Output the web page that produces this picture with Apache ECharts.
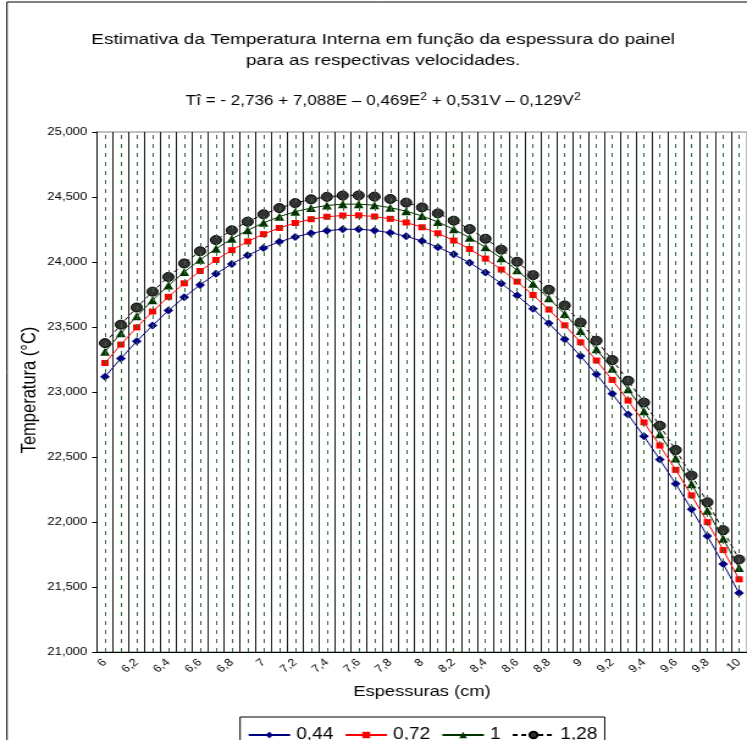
<!DOCTYPE html>
<html>
<head>
<meta charset="utf-8">
<script src="https://cdn.jsdelivr.net/npm/echarts@6.0.0/dist/echarts.min.js"></script>
<style>
  html, body { margin: 0; padding: 0; background: #fff; overflow: hidden; }
  /* the source picture is stretched sideways, so the chart is drawn narrower and widened */
  #myChart { width: 612px; height: 740px; transform: scaleX(1.2206); transform-origin: 0 0; }
</style>
</head>
<body>
<div id="myChart"></div>
<script>
// espessuras (cm)
const categorias = ['6', '6,1', '6,2', '6,3', '6,4', '6,5', '6,6', '6,7', '6,8', '6,9',
  '7', '7,1', '7,2', '7,3', '7,4', '7,5', '7,6', '7,7', '7,8', '7,9',
  '8', '8,1', '8,2', '8,3', '8,4', '8,5', '8,6', '8,7', '8,8', '8,9',
  '9', '9,1', '9,2', '9,3', '9,4', '9,5', '9,6', '9,7', '9,8', '9,9', '10'];

// temperatura interna por velocidade
const v044 = [23117, 23258, 23390, 23512, 23626, 23729, 23824, 23909, 23985, 24051,
  24108, 24155, 24193, 24222, 24241, 24251, 24252, 24243, 24225, 24198,
  24161, 24114, 24059, 23994, 23919, 23835, 23742, 23640, 23528, 23406,
  23276, 23136, 22986, 22827, 22659, 22481, 22294, 22098, 21892, 21677, 21453];
const v072 = [23223, 23365, 23497, 23619, 23732, 23836, 23931, 24016, 24091, 24158,
  24214, 24262, 24300, 24329, 24348, 24358, 24359, 24350, 24332, 24304,
  24267, 24221, 24165, 24100, 24026, 23942, 23849, 23746, 23634, 23513,
  23382, 23242, 23093, 22934, 22766, 22588, 22401, 22205, 21999, 21784, 21559];
const v1 = [23310, 23451, 23583, 23706, 23819, 23923, 24017, 24102, 24178, 24244,
  24301, 24349, 24387, 24415, 24435, 24445, 24445, 24437, 24418, 24391,
  24354, 24308, 24252, 24187, 24113, 24029, 23936, 23833, 23721, 23600,
  23469, 23329, 23179, 23021, 22852, 22675, 22488, 22291, 22086, 21871, 21646];
const v128 = [23376, 23518, 23650, 23772, 23885, 23989, 24083, 24169, 24244, 24310,
  24367, 24415, 24453, 24482, 24501, 24511, 24512, 24503, 24485, 24457,
  24420, 24374, 24318, 24253, 24179, 24095, 24002, 23899, 23787, 23666,
  23535, 23395, 23246, 23087, 22919, 22741, 22554, 22358, 22152, 21937, 21712];

const nomes = ['0,44', '0,72', '1', '1,28'];

const fonte = "'Liberation Sans', Arial, sans-serif";

let myChart = echarts.init(document.getElementById('myChart'));

let option = {
  animation: false,
  textStyle: { fontFamily: fonte, color: '#000' },
  graphic: [
    {
      type: 'rect', silent: true, z: -10,
      shape: { x: 5.7, y: 2, width: 700, height: 800 },
      style: { fill: 'none', stroke: '#000', lineWidth: 1 }
    },
    {
      type: 'text', x: 313.9, y: 40,
      style: {
        text: 'Estimativa da Temperatura Interna em função da espessura do painel',
        fontFamily: fonte, fontSize: 15.5, fill: '#000', align: 'center', verticalAlign: 'middle'
      }
    },
    {
      type: 'text', x: 313.9, y: 61,
      style: {
        text: 'para as respectivas velocidades.',
        fontFamily: fonte, fontSize: 15.5, fill: '#000', align: 'center', verticalAlign: 'middle'
      }
    },
    {
      type: 'text', x: 313.9, y: 101,
      style: {
        text: 'Tî = - 2,736 + 7,088E – 0,469E{s|2} + 0,531V – 0,129V{s|2}',
        fontFamily: fonte, fontSize: 14, fill: '#000', align: 'center', verticalAlign: 'middle',
        lineHeight: 18,
        rich: {
          s: { fontFamily: fonte, fontSize: 10, fill: '#000', verticalAlign: 'top', lineHeight: 18 }
        }
      }
    },
    {
      // título do eixo Y
      type: 'text', x: 24, y: 390, rotation: Math.PI / 2,
      style: {
        text: 'Temperatura (°C)',
        fontFamily: fonte, fontSize: 16.5, fill: '#000', align: 'center', verticalAlign: 'middle'
      }
    }
  ],
  grid: {
    left: 79.5, top: 132, width: 537.7, height: 520,
    show: true, borderColor: '#808080', borderWidth: 1
  },
  legend: {
    data: nomes,
    left: 196.7, top: 717,
    itemWidth: 34, itemHeight: 8, itemGap: 9,
    padding: [10, 6, 22, 6],
    borderColor: '#000', borderWidth: 1,
    textStyle: { fontSize: 15.6, color: '#000', fontFamily: fonte }
  },
  xAxis: {
    type: 'category',
    data: categorias,
    boundaryGap: true,
    name: 'Espessuras (cm)',
    nameLocation: 'middle',
    nameGap: 32,
    nameTextStyle: { fontSize: 15, color: '#000', fontFamily: fonte },
    axisLine: { lineStyle: { color: '#000', width: 1 } },
    axisTick: { interval: 0, length: 4, lineStyle: { color: '#000' } },
    axisLabel: { interval: 1, rotate: 42, fontSize: 10.5, color: '#000', margin: 9, fontFamily: fonte },
    splitLine: { show: true, interval: 0, lineStyle: { color: '#1a1a1a', width: 1 } }
  },
  yAxis: {
    type: 'value',
    min: 21000, max: 25000, interval: 500,
    axisLine: { show: true, lineStyle: { color: '#000', width: 1 } },
    axisTick: { show: true, length: 4, lineStyle: { color: '#000' } },
    axisLabel: { fontSize: 10.7, color: '#000', margin: 8, fontFamily: fonte },
    splitLine: { show: false }
  },
  series: [
    {
      // linhas tracejadas verdes no centro de cada categoria
      name: 'grade', type: 'line', data: [], z: 1, silent: true,
      markLine: {
        silent: true, symbol: ['none', 'none'], label: { show: false },
        lineStyle: { color: '#2f6e2f', type: [4, 5], width: 1 },
        emphasis: { disabled: true },
        data: categorias.map(c => ({ xAxis: c }))
      }
    },
    {
      name: nomes[0], type: 'line', data: v044,
      symbol: 'diamond', symbolSize: 8, showAllSymbol: true,
      lineStyle: { color: '#000080', width: 1 },
      itemStyle: { color: '#000080' }
    },
    {
      name: nomes[1], type: 'line', data: v072,
      symbol: 'rect', symbolSize: 6, showAllSymbol: true,
      lineStyle: { color: '#ff0000', width: 1 },
      itemStyle: { color: '#ff0000' }
    },
    {
      name: nomes[2], type: 'line', data: v1,
      symbol: 'triangle', symbolSize: 8, showAllSymbol: true,
      lineStyle: { color: '#003300', width: 1 },
      itemStyle: { color: '#003300' }
    },
    {
      name: nomes[3], type: 'line', data: v128,
      symbol: 'circle', symbolSize: 9, showAllSymbol: true,
      lineStyle: { color: '#000', width: 1, type: [4, 3] },
      itemStyle: { color: '#333333', borderColor: '#000', borderWidth: 1 }
    }
  ]
};

myChart.setOption(option);
</script>
</body>
</html>
